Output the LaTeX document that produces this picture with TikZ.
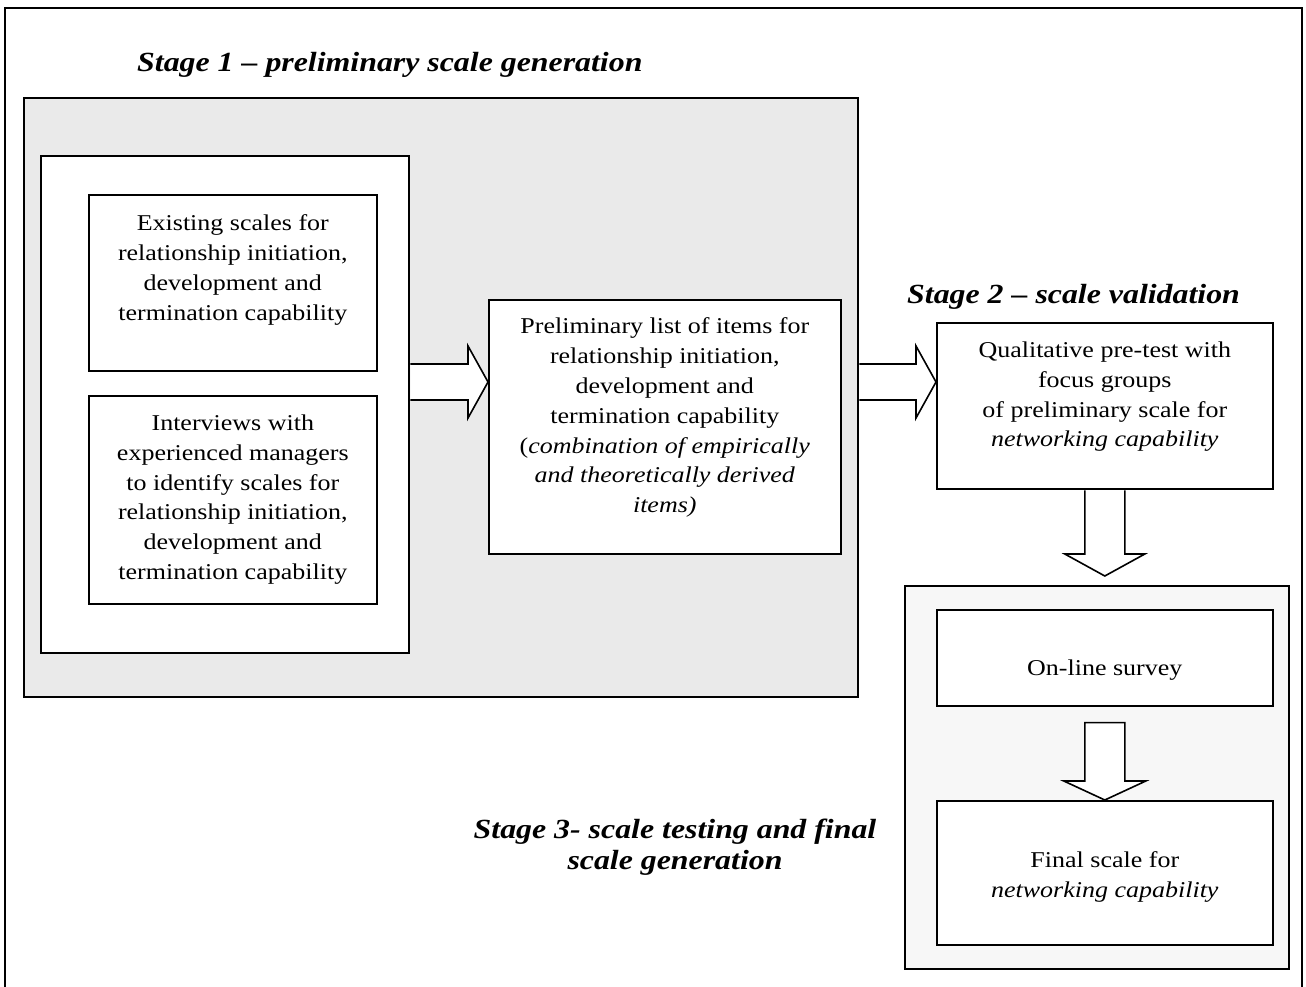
\documentclass[tikz,border=0pt]{standalone}
\usepackage{fontspec}
\setmainfont{Liberation Serif}[FakeStretch=1.15]
\usetikzlibrary{calc}
\definecolor{shadeA}{RGB}{234,234,234}
\definecolor{shadeB}{RGB}{247,247,247}
\begin{document}
\begin{tikzpicture}[x=1pt,y=-1pt,
  box/.style={draw, line width=1.6pt, inner sep=0pt, anchor=north west, fill=white},
  body/.style={inner sep=0pt, align=center, font=\fontsize{22.6}{29.8}\selectfont, anchor=north},
  stagetitle/.style={inner sep=0pt, font=\fontsize{27.7}{31}\selectfont\bfseries\itshape},
  blockarrow/.style={draw, line width=1.6pt, fill=white, line join=miter}]
\useasboundingbox (0,0) rectangle (1306,987);
\clip (0,0) rectangle (1306,987);
\draw[line width=2pt] (5,8) rectangle (1302,1010);

% Stage 1
\node[box, fill=shadeA, minimum width=834pt, minimum height=599pt] (S1) at (23,97) {};
\node[box, minimum width=368pt, minimum height=497pt] (W) at (40,155) {};
\node[box, minimum width=288pt, minimum height=176pt] (A) at (88,194) {};
\node[box, minimum width=288pt, minimum height=208pt] (B) at (88,395) {};
\node[box, minimum width=352pt, minimum height=254pt] (C) at (488,299) {};

% Stage 2
\node[box, minimum width=336pt, minimum height=166pt] (D) at (936,322) {};

% Stage 3
\node[box, fill=shadeB, minimum width=384pt, minimum height=383pt] (S3) at (904,585) {};
\node[box, minimum width=336pt, minimum height=96pt] (E) at (936,609) {};
\node[box, minimum width=336pt, minimum height=144pt] (F) at (936,800) {};

% texts
\node[body] (At) at ([yshift=-20.7pt]A.north) {Existing scales for\\relationship initiation,\\development and\\termination capability};
\node[body] (Bt) at ([yshift=-19.7pt]B.north) {Interviews with\\experienced managers\\to identify scales for\\relationship initiation,\\development and\\termination capability};
\node[body] (Ct) at ([yshift=-18.7pt]C.north) {Preliminary list of items for\\relationship initiation,\\development and\\termination capability\\(\textit{combination of empirically}\\\textit{and theoretically derived}\\\textit{items)}};
\node[body] (Dt) at ([yshift=-19.7pt]D.north) {Qualitative pre-test with\\focus groups\\of preliminary scale for\\\textit{networking capability}};
\node[body] (Et) at ([yshift=-50.7pt]E.north) {On-line survey};
\node[body] (Ft) at ([yshift=-51.7pt]F.north) {Final scale for\\\textit{networking capability}};

% titles
\node[stagetitle, anchor=base west] (T1) at (137,72) {Stage 1 – preliminary scale generation};
\node[stagetitle, anchor=base west] (T2) at (907,303) {Stage 2 – scale validation};
\node[stagetitle, align=center, anchor=north] (T3) at (675,818.5) {Stage 3- scale testing and final\\scale generation};

% block arrows
\coordinate (h1) at (0,382);
\draw[blockarrow] ($(W.east|-h1)+(0.8,-18)$) -- ($(C.west|-h1)+(-20,-18)$) -- ($(C.west|-h1)+(-20,-36)$)
  -- (C.west|-h1) -- ($(C.west|-h1)+(-20,36)$) -- ($(C.west|-h1)+(-20,18)$) -- ($(W.east|-h1)+(0.8,18)$);
\draw[blockarrow] ($(S1.east|-h1)+(0.8,-18)$) -- ($(D.west|-h1)+(-20,-18)$) -- ($(D.west|-h1)+(-20,-36)$)
  -- (D.west|-h1) -- ($(D.west|-h1)+(-20,36)$) -- ($(D.west|-h1)+(-20,18)$) -- ($(S1.east|-h1)+(0.8,18)$);
\coordinate (t3) at ($(D.south|-S3.north)+(0,-9)$);
\draw[blockarrow] ($(D.south)+(-20,0.8)$) -- ($(t3)+(-20,-22)$) -- ($(t3)+(-40,-22)$) -- (t3)
  -- ($(t3)+(40,-22)$) -- ($(t3)+(20,-22)$) -- ($(D.south)+(20,0.8)$);
\draw[blockarrow] ($(E.south)+(-20,16)$) -- ($(F.north)+(-20,-19)$) -- ($(F.north)+(-41,-19)$) -- (F.north)
  -- ($(F.north)+(41,-19)$) -- ($(F.north)+(20,-19)$) -- ($(E.south)+(20,16)$) -- cycle;
\end{tikzpicture}
\end{document}
